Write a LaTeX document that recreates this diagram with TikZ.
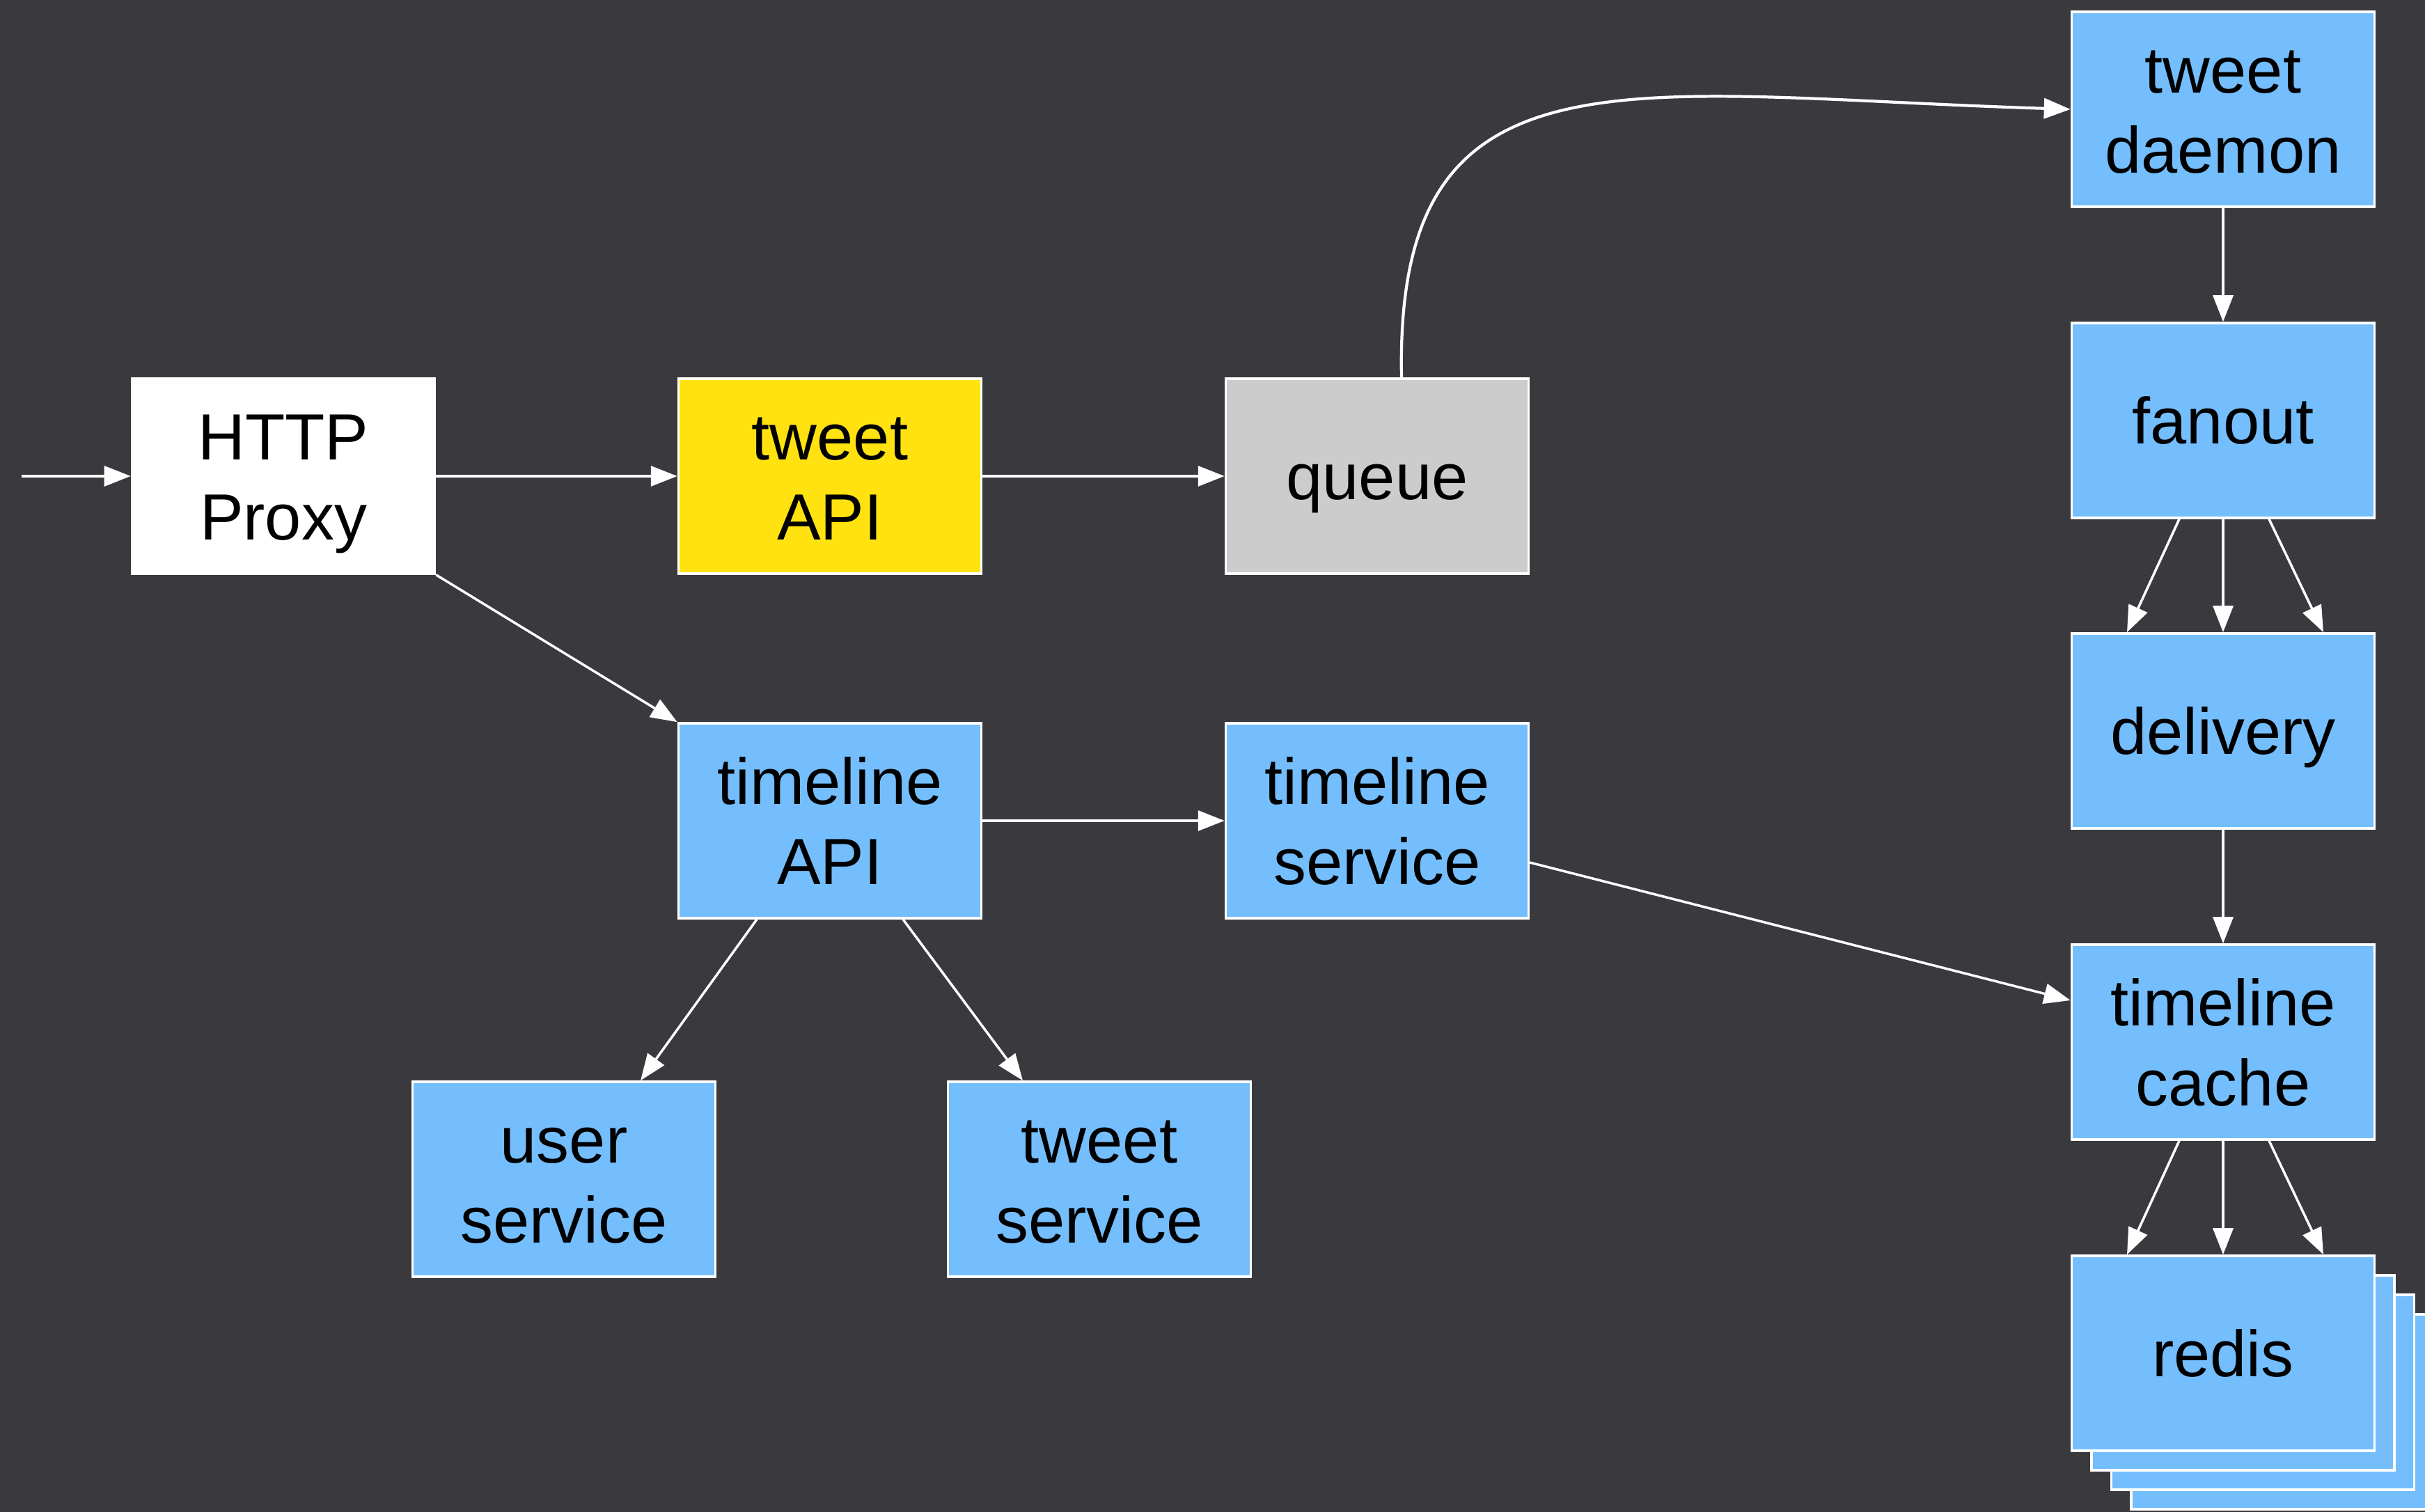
\documentclass[tikz,border=0pt]{standalone}
\usepackage{fontspec}
\setmainfont{Liberation Sans}
\usetikzlibrary{arrows.meta}
\definecolor{bgdark}{RGB}{57,57,62}
\definecolor{svcblue}{RGB}{116,190,253}
\definecolor{apiyellow}{RGB}{255,226,15}
\definecolor{queuegray}{RGB}{204,204,204}
\newcommand{\ls}{\rule[-0.2cm]{0pt}{1.08cm}}
\tikzset{
  svcbox/.style={draw=white, line width=1pt, fill=svcblue, minimum width=4.35cm,
    minimum height=2.8cm, inner sep=0pt, align=center, font=\fontsize{26.7}{32.7}\selectfont},
  flow/.style={draw=white, line width=1pt, -{Triangle[length=3.8mm,width=2.9mm]}}
}
\begin{document}
\begin{tikzpicture}  %tweet and timeline flow
	\fill[bgdark] (0,0) rectangle (34.83,21.72);
	\useasboundingbox (0,0) rectangle (34.83,21.72);
	% left part
	\coordinate (in) at (0.31,14.88);
	\node[svcbox, fill=white] (proxy) at (4.07,14.88) {\ls HTTP\\\ls Proxy};
	\node[svcbox, fill=apiyellow] (tweetapi) at (11.92,14.88) {\ls tweet\\\ls API};
	\node[svcbox, fill=queuegray] (queue) at (19.78,14.88) {\ls queue};
	\node[svcbox] (timelineapi) at (11.92,9.93) {\ls timeline\\\ls API};
	\node[svcbox] (tlservice) at (19.78,9.93) {\ls timeline\\\ls service};
	\node[svcbox] (userservice) at (8.10,4.78) {\ls user\\\ls service};
	\node[svcbox] (tweetservice) at (15.79,4.78) {\ls tweet\\\ls service};
	% right column
	\node[svcbox] (daemon) at (31.93,20.15) {\ls tweet\\\ls daemon};
	\node[svcbox] (fanout) at (31.93,15.68) {\ls fanout};
	\node[svcbox] (delivery) at (31.93,11.22) {\ls delivery};
	\node[svcbox] (tlcache) at (31.93,6.75) {\ls timeline\\\ls cache};
	\foreach \k in {3,2,1}
		\node[svcbox] (redis\k) at ({31.93+0.285*\k},{2.28-0.28*\k}) {};
	\node[svcbox] (redis) at (31.93,2.28) {\ls redis};
	% connectors
	\draw[flow] (in) -- (proxy.west);
	\draw[flow] (proxy) -- (tweetapi);
	\draw[flow] (tweetapi) -- (queue);
	\draw[flow] (proxy.south east) -- (timelineapi.north west);
	\draw[flow, line width=1.2pt] ([xshift=0.35cm]queue.north) .. controls +(-0.1,4.9) and +(-6.4,0.2) .. (daemon.west);
	\draw[flow] (timelineapi) -- (tlservice);
	\draw[flow] ([xshift=-1.05cm]timelineapi.south) -- ([xshift=1.1cm]userservice.north);
	\draw[flow] ([xshift=1.05cm]timelineapi.south) -- ([xshift=-1.1cm]tweetservice.north);
	\draw[flow] ([yshift=-0.6cm]tlservice.east) -- ([yshift=0.6cm]tlcache.west);
	\draw[flow] (daemon) -- (fanout);
	\draw[flow] (delivery) -- (tlcache);
	\foreach \a/\b in {-0.63/-1.38, 0/0, 0.66/1.44} {
		\draw[flow] ([xshift=\a cm]fanout.south) -- ([xshift=\b cm]delivery.north);
		\draw[flow] ([xshift=\a cm]tlcache.south) -- ([xshift=\b cm]redis.north);
	}
\end{tikzpicture}
\end{document}
